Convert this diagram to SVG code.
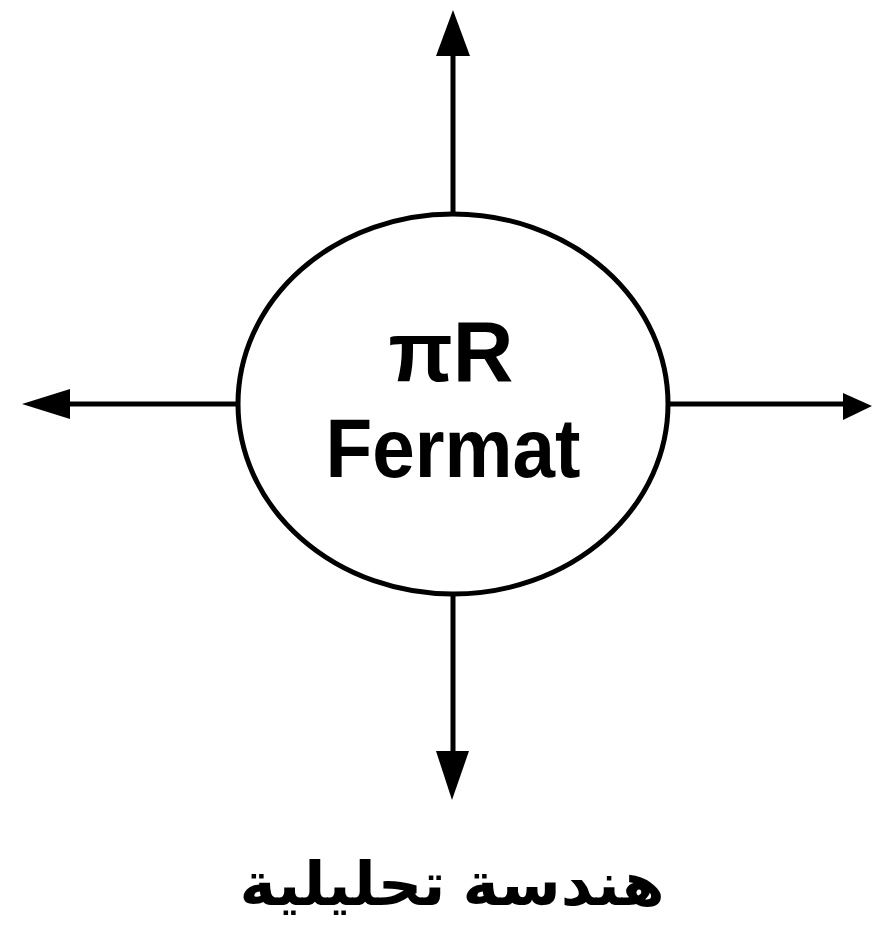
<svg xmlns="http://www.w3.org/2000/svg" width="877" height="937" viewBox="0 0 877 937">
<style>
.ln{stroke:#000;stroke-width:5;fill:none}
.hd{fill:#000}
.t{font-family:"Liberation Sans","DejaVu Sans",sans-serif;font-weight:bold;fill:#000;text-anchor:middle}
</style>
<rect width="877" height="937" fill="#fff"/>
<g id="connectors">
<line class="ln" x1="453" y1="214" x2="453" y2="55"/>
<polygon class="hd" points="453,10 470,56 436,56"/>
<line class="ln" x1="238" y1="404" x2="68" y2="404"/>
<polygon class="hd" points="22,404 70,389 70,419"/>
<line class="ln" x1="668" y1="404" x2="845" y2="404"/>
<polygon class="hd" points="872,406 843,393 843,420"/>
<line class="ln" x1="453" y1="595" x2="453" y2="752"/>
<polygon class="hd" points="452,800 436,751 469,751"/>
</g>
<g id="center">
<ellipse cx="453" cy="404" rx="215" ry="190" fill="#fff" stroke="#000" stroke-width="5"/>
<text class="t" x="451" y="381" font-size="86" textLength="125" lengthAdjust="spacingAndGlyphs">πR</text>
<text class="t" x="453" y="477" font-size="84" textLength="255" lengthAdjust="spacingAndGlyphs">Fermat</text>
</g>
<g id="caption">
<text class="t" x="452" y="905" font-size="60" font-family="'DejaVu Sans',sans-serif" direction="rtl" textLength="425" lengthAdjust="spacingAndGlyphs">هندسة تحليلية</text>
</g>
</svg>
